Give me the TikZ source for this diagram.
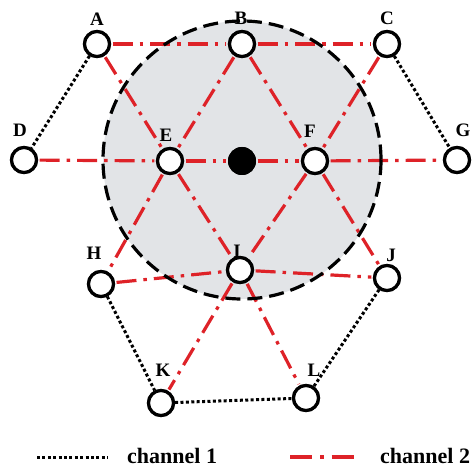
\documentclass[tikz,border=0pt]{standalone}
\usepackage{fontspec}
\setmainfont{Liberation Serif}
\definecolor{chred}{RGB}{222,34,40}
\definecolor{zone}{RGB}{226,228,231}
\begin{document}
\begin{tikzpicture}[x=1pt,y=-1pt,
  station/.style={circle,draw=black,fill=white,line width=3.2pt,minimum size=25pt,inner sep=0pt},
  hub/.style={circle,fill=black,minimum size=28pt,inner sep=0pt},
  tag/.style={font=\fontsize{19}{19}\selectfont\bfseries,anchor=base,inner sep=0pt},
  legendtext/.style={font=\fontsize{22}{22}\selectfont\bfseries,anchor=base west,inner sep=0pt},
  chone/.style={black,line width=3pt,dash pattern=on 3pt off 2.4pt},
  chtwo/.style={chred,line width=3.2pt,dash pattern=on 20pt off 7pt on 3.5pt off 7pt,shorten <=1.5pt,shorten >=1.5pt},
  rim/.style={black,line width=3.2pt,dash pattern=on 15pt off 7pt},
]
\useasboundingbox (0,0) rectangle (472,468);

% coverage zone
\fill[zone] (242,160) circle (139);

% stations
\path
  (97,44)   node[station] (A) {}
  (242,44)  node[station] (B) {}
  (387,44)  node[station] (C) {}
  (24,160)  node[station] (D) {}
  (170,161) node[station] (E) {}
  (315,161) node[station] (F) {}
  (457,160) node[station] (G) {}
  (101,284) node[station] (H) {}
  (240,270) node[station] (I) {}
  (387,278) node[station] (J) {}
  (161,403) node[station] (K) {}
  (306,398) node[station] (L) {}
  (242,161) node[hub] (O) {};

% channel 2 links
\draw[chtwo] (A) -- (B);
\draw[chtwo] (B) -- (C);
\draw[chtwo] (D) -- (E);
\draw[chtwo] (E) -- (O);
\draw[chtwo] (O) -- (F);
\draw[chtwo] (F) -- (G);
\draw[chtwo] (A) -- (E);
\draw[chtwo] (E) -- (I);
\draw[chtwo] (B) -- (E);
\draw[chtwo] (E) -- (H);
\draw[chtwo] (B) -- (F);
\draw[chtwo] (F) -- (J);
\draw[chtwo] (C) -- (F);
\draw[chtwo] (F) -- (I);
\draw[chtwo] (H) -- (I);
\draw[chtwo] (I) -- (J);
\draw[chtwo] (I) -- (K);
\draw[chtwo] (I) -- (L);

% channel 1 links
\draw[chone] (A) -- (D);
\draw[chone] (C) -- (G);
\draw[chone] (H) -- (K);
\draw[chone] (K) -- (L);
\draw[chone] (J) -- (L);

% zone boundary
\draw[rim] (242,160) circle (139);

% station names
\node[tag] (tA) at (97,26)  {A};
\node[tag] (tB) at (241,25) {B};
\node[tag] (tC) at (387,25) {C};
\node[tag] (tD) at (20,137) {D};
\node[tag] (tE) at (166,142) {E};
\node[tag] (tF) at (310,138) {F};
\node[tag] (tG) at (463,137) {G};
\node[tag] (tH) at (94,260) {H};
\node[tag] (tI) at (237,258) {I};
\node[tag] (tJ) at (391,262) {J};
\node[tag] (tK) at (163,377) {K};
\node[tag] (tL) at (314,377) {L};

% redraw stations over their links and names
\foreach \p in {{97,44},{242,44},{387,44},{24,160},{170,161},{315,161},{457,160},{101,284},{240,270},{387,278},{161,403},{306,398}}
  \node[station] at (\p) {};
\node[hub] at (242,161) {};

% legend
\coordinate (la) at (37,457);
\coordinate (lb) at (108,457);
\coordinate (lc) at (290,457);
\coordinate (ld) at (354,457);
\draw[chone] (la) -- (lb);
\draw[chred,line width=3.2pt,dash pattern=on 22pt off 8pt on 3.5pt off 8pt] (lc) -- (ld);
\node[legendtext] (t1) at (127,463) {channel 1};
\node[legendtext] (t2) at (380,463) {channel 2};
\end{tikzpicture}
\end{document}
